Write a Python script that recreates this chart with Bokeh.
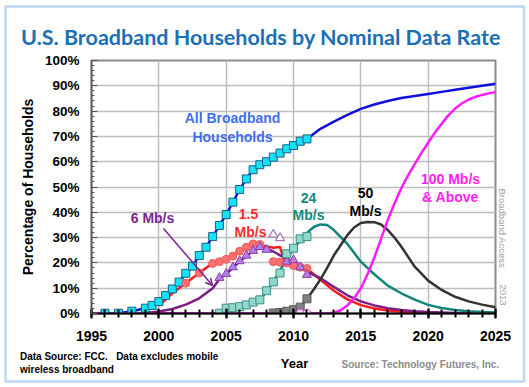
import math
from bokeh.plotting import figure
from bokeh.models import (Range1d, SingleIntervalTicker, PrintfTickFormatter, Label,
                          Arrow, OpenHead, BoxAnnotation)
from bokeh.embed import file_html
from bokeh.resources import INLINE

# ---------------- data (percent of U.S. households) ----------------
all_years = [1996, 1997, 1998, 1999, 1999.5, 2000, 2000.5, 2001, 2001.5, 2002, 2002.5,
             2003, 2003.5, 2004, 2004.5, 2005, 2005.5, 2006, 2006.5, 2007, 2007.5,
             2008, 2008.5, 2009, 2009.5, 2010, 2010.5, 2011]
all_vals = [0.1, 0.1, 0.9, 2.1, 3.2, 4.7, 7.1, 9.7, 12.4, 15.9, 18.7,
            22.9, 26.2, 30.4, 34.8, 39.1, 44.0, 49.0, 53.2, 56.8, 58.8,
            60.0, 61.8, 63.4, 65.1, 66.4, 68.1, 69.0]
all_fc_years = [2012, 2013, 2014, 2015, 2016, 2017, 2018, 2019, 2020, 2021, 2022, 2023, 2024, 2025]
all_fc_vals = [73.0, 75.8, 78.5, 80.9, 82.6, 84.0, 85.2, 86.0, 86.8, 87.6, 88.4, 89.2, 90.0, 90.8]

r15_years = [2002, 2003, 2004, 2004.5, 2005, 2005.5, 2006, 2006.5, 2007, 2007.5,
             2008.5, 2009, 2009.5, 2010, 2010.5, 2011]
r15_vals = [12.0, 16.0, 19.8, 20.5, 21.4, 22.7, 24.6, 26.2, 27.5, 27.3,
            20.5, 20.3, 20.0, 19.0, 18.3, 17.8]
r15_line_years = [2000, 2000.5, 2001, 2001.5, 2002, 2002.5, 2003, 2003.5, 2004, 2004.5,
                  2005, 2005.5, 2006, 2006.5, 2007, 2007.5, 2008, 2008.5, 2009, 2009.3,
                  2009.5, 2010, 2010.5, 2011, 2011.5, 2012, 2013, 2014, 2015, 2016,
                  2017, 2018, 2019, 2020, 2022, 2025]
r15_line_vals = [3.0, 5.5, 8.0, 10.0, 12.0, 14.0, 16.0, 18.0, 19.8, 20.7,
                 21.6, 22.8, 24.4, 25.8, 26.8, 27.0, 26.5, 26.0, 26.3, 21.0,
                 20.3, 19.3, 18.5, 17.8, 15.5, 13.3, 9.0, 5.6, 3.3, 2.0,
                 1.2, 0.7, 0.4, 0.2, 0.1, 0.0]

r6_years = [2004.5, 2005, 2005.5, 2006, 2006.5, 2007, 2007.5, 2008, 2009.5, 2010, 2010.5, 2011]
r6_vals = [14.1, 15.7, 18.3, 20.7, 22.9, 24.8, 26.3, 25.2, 20.5, 21.1, 18.3, 15.3]
r6_open_years = [2008.5, 2009]
r6_open_vals = [31.2, 29.8]
r6_line_years = [1998.5, 1999, 2000, 2001, 2002, 2003, 2004, 2004.5, 2005, 2005.5, 2006,
                 2006.5, 2007, 2007.5, 2008, 2008.5, 2009, 2009.5, 2010, 2010.5, 2011,
                 2012, 2013, 2014, 2015, 2016, 2017, 2018, 2019, 2020, 2022, 2025]
r6_line_vals = [0.0, 0.2, 0.8, 1.8, 3.5, 6.0, 10.0, 13.5, 15.7, 18.0, 20.5,
                22.7, 24.6, 26.0, 25.5, 24.5, 23.0, 21.8, 20.3, 18.5, 16.5,
                14.0, 10.5, 7.2, 4.8, 3.2, 2.1, 1.4, 0.9, 0.6, 0.2, 0.0]

r24_years = [2004.5, 2005, 2005.5, 2006, 2006.5, 2007, 2007.5, 2008, 2008.5, 2009,
             2009.5, 2010, 2010.5, 2011]
r24_vals = [0.1, 2.1, 2.3, 2.7, 3.4, 4.5, 5.4, 9.0, 12.5, 16.0,
            23.6, 25.8, 29.5, 30.4]
r24_line_years = [2007.5, 2008, 2008.5, 2009, 2009.5, 2010, 2010.5, 2011, 2011.5, 2012,
                  2012.5, 2013, 2014, 2015, 2016, 2017, 2018, 2019, 2020, 2021,
                  2022, 2023, 2024, 2025]
r24_line_vals = [5.5, 8.5, 12.5, 17.0, 21.5, 25.5, 29.0, 31.8, 34.2, 35.2,
                 35.0, 33.0, 27.5, 20.5, 15.5, 11.0, 8.0, 5.5, 3.4, 2.2,
                 1.4, 0.9, 0.6, 0.4]

r50_years = [2008.5, 2009, 2009.5, 2010, 2010.5, 2011]
r50_vals = [0.2, 0.4, 0.9, 1.5, 2.5, 5.8]
r50_line_years = [2008.5, 2009, 2009.5, 2010, 2010.5, 2011, 2011.5, 2012, 2012.5, 2013,
                  2013.5, 2014, 2014.5, 2015, 2015.5, 2016, 2016.5, 2017, 2017.5, 2018,
                  2019, 2020, 2021, 2022, 2023, 2024, 2025]
r50_line_vals = [0.2, 0.4, 0.9, 1.5, 2.5, 5.8, 9.5, 13.5, 18.0, 23.0,
                 27.0, 31.0, 34.0, 35.8, 36.2, 36.1, 35.2, 33.0, 30.0, 26.5,
                 18.5, 13.0, 9.3, 6.6, 4.8, 3.5, 2.5]

r100_years = [2010.5, 2011]
r100_vals = [0.0, 0.0]
r100_line_years = [1995, 2012.5, 2013, 2013.5, 2014, 2014.5, 2015, 2015.5, 2016, 2016.5,
                   2017, 2017.5, 2018, 2018.5, 2019, 2019.5, 2020, 2020.5, 2021, 2021.5,
                   2022, 2022.5, 2023, 2023.5, 2024, 2024.5, 2025]
r100_line_vals = [0.0, 0.0, 0.3, 1.3, 3.2, 6.0, 10.0, 15.5, 22.0, 29.5,
                  37.0, 43.5, 49.5, 54.5, 59.0, 63.5, 67.5, 71.5, 75.0, 78.3,
                  81.0, 83.0, 84.6, 85.6, 86.4, 87.0, 87.5]

# ---------------- layout ----------------
W, H = 529, 387
LEFT, TOP, FW, FH = 91, 60, 404, 253
AX_FONT = "Liberation Sans"


def dx(px):
    return 1995 + (px - LEFT) * 30.0 / FW


def dy(py):
    return (TOP + FH - py) * 100.0 / FH


p = figure(width=W, height=H, output_backend="svg", toolbar_location=None, title=None,
           x_range=Range1d(1995, 2025), y_range=Range1d(0, 100),
           min_border_left=LEFT, min_border_right=W - LEFT - FW,
           min_border_top=TOP, min_border_bottom=H - TOP - FH)
p.background_fill_color = "white"
p.border_fill_color = "white"
p.outline_line_color = "#8c8c8c"
p.outline_line_width = 2

p.xaxis.ticker = SingleIntervalTicker(interval=5, num_minor_ticks=5)
p.xaxis.major_label_text_font = AX_FONT
p.xaxis.major_label_text_font_style = "bold"
p.xaxis.major_label_text_font_size = "14px"
p.xaxis.major_label_text_color = "black"
p.xaxis.major_label_standoff = 12
p.xaxis.axis_line_color = "black"
p.xaxis.axis_line_width = 2
p.xaxis.major_tick_in = 5
p.xaxis.major_tick_out = 5
p.xaxis.minor_tick_in = 4
p.xaxis.minor_tick_out = 4
p.xaxis.major_tick_line_color = "black"
p.xaxis.minor_tick_line_color = "black"
p.xaxis.major_tick_line_width = 2
p.xaxis.minor_tick_line_width = 2

p.yaxis.ticker = SingleIntervalTicker(interval=10, num_minor_ticks=5)
p.yaxis.formatter = PrintfTickFormatter(format="%d%%")
p.yaxis.major_label_text_font = AX_FONT
p.yaxis.major_label_text_font_style = "bold"
p.yaxis.major_label_text_font_size = "13.5px"
p.yaxis.major_label_text_color = "black"
p.yaxis.major_label_standoff = 12
p.yaxis.axis_line_color = "#555555"
p.yaxis.axis_line_width = 1.5
p.yaxis.major_tick_in = 6
p.yaxis.major_tick_out = 0
p.yaxis.minor_tick_in = 3
p.yaxis.minor_tick_out = 0
p.yaxis.major_tick_line_color = "#555555"
p.yaxis.minor_tick_line_color = "#555555"
p.yaxis.axis_label = "Percentage of Households"
p.yaxis.axis_label_text_font = AX_FONT
p.yaxis.axis_label_text_font_style = "bold"
p.yaxis.axis_label_text_font_size = "14px"
p.yaxis.axis_label_text_color = "black"
p.yaxis.axis_label_standoff = 6

p.xgrid.ticker = SingleIntervalTicker(interval=5)
p.ygrid.ticker = SingleIntervalTicker(interval=10)
p.grid.grid_line_color = "#bdbdbd"
p.grid.grid_line_width = 1.5

# ---------------- lines ----------------
p.line(all_years + all_fc_years, all_vals + all_fc_vals, line_color="#1010dd", line_width=2.5)
p.line(r15_line_years, r15_line_vals, line_color="#ff1a1a", line_width=2.5)
p.line(r6_line_years, r6_line_vals, line_color="#7f1d87", line_width=2.5)
p.line(r24_line_years, r24_line_vals, line_color="#12857a", line_width=2.5)
p.line(r50_line_years, r50_line_vals, line_color="#333333", line_width=2.5)
p.line(r100_line_years, r100_line_vals, line_color="#ff1aff", line_width=2.5)

# ---------------- markers ----------------
p.scatter(all_years, all_vals, marker="square", size=8, fill_color="#14e3f5",
          line_color="#1a5f8a", line_width=1)
p.scatter(r15_years, r15_vals, marker="circle", size=8, fill_color="#ff7070",
          line_color="#f05a5a", line_width=1)
p.scatter(r6_years, r6_vals, marker="triangle", size=9, fill_color="#b57ee6",
          line_color="#8a3fa8", line_width=1)
p.scatter(r6_open_years, r6_open_vals, marker="triangle", size=9, fill_color="white",
          line_color="#a07ab0", line_width=1.2)
p.scatter(r24_years, r24_vals, marker="square", size=8, fill_color="#8fd8cc",
          line_color="#3f8f86", line_width=1)
p.scatter(r50_years, r50_vals, marker="square", size=8, fill_color="#808080",
          line_color="#5a5a5a", line_width=1)
p.scatter(r100_years, r100_vals, marker="circle", size=8, fill_color="white",
          line_color="#ff40ff", line_width=1.2)


# ---------------- in-chart annotations ----------------
def lab(px, py, text, color, size="14px"):
    p.add_layout(Label(x=dx(px), y=dy(py), text=text, text_color=color, text_font=AX_FONT,
                       text_font_size=size, text_font_style="bold",
                       text_align="center", text_baseline="middle"))


lab(232, 117, "All Broadband", "#3f6df0")
lab(232, 136, "Households", "#3f6df0")
lab(152, 217, "6 Mb/s", "#7a2590")
lab(248, 213, "1.5", "#ff2a2a")
lab(250, 231, "Mb/s", "#ff2a2a")
lab(308, 197, "24", "#168a7e")
lab(308, 214, "Mb/s", "#168a7e")
lab(365, 192, "50", "black")
lab(365, 210, "Mb/s", "black")
lab(450, 178, "100 Mb/s", "#ff22ee")
lab(450, 196, "& Above", "#ff22ee")

p.add_layout(Arrow(end=OpenHead(size=7, line_color="#7a2590", line_width=1.5),
                   x_start=dx(163), y_start=dy(228), x_end=dx(212), y_end=dy(285),
                   line_color="#7a2590", line_width=1.5))

# ---------------- transparent overlay for texts around the chart ----------------
ov = figure(width=W, height=H, output_backend="svg", toolbar_location=None, title=None,
            x_range=Range1d(0, W), y_range=Range1d(H, 0),
            x_axis_type=None, y_axis_type=None, min_border=0,
            styles={"position": "absolute", "top": "0px", "left": "0px"})
ov.background_fill_color = None
ov.border_fill_color = None
ov.outline_line_color = None


def olab(x, y, text, color, size, font=AX_FONT, bold=True, align="left", angle=0.0):
    ov.add_layout(Label(x=x, y=y, text=text, text_color=color, text_font=font,
                        text_font_size=size, text_font_style="bold" if bold else "normal",
                        text_align=align, text_baseline="alphabetic", angle=angle))


olab(260.5, 36, "U.S. Broadband Households by Nominal Data Rate", "#1b6fb6", "21.5px",
     font="Lato", align="center")
olab(502, 188, "Broadband Access", "#a0a0a0", "9.5px", bold=False, angle=-math.pi / 2)
olab(502, 284, "2013", "#a0a0a0", "9.5px", bold=False, angle=-math.pi / 2)
olab(19.5, 355.7, "Data Source: FCC.\u00a0\u00a0 Data excludes mobile", "black", "10px")
olab(19.5, 369, "wireless broadband", "black", "10px")
olab(294, 363.3, "Year", "black", "13px", align="center")
olab(341, 364.3, "Source: Technology Futures, Inc.", "#8c8c8c", "10px")

ov.add_layout(BoxAnnotation(left=5, right=523.5, top=6, bottom=381, fill_alpha=0,
                            line_color="#2b7cd3", line_width=2.5))

open("out.html", "w").write(file_html([p, ov], INLINE))
